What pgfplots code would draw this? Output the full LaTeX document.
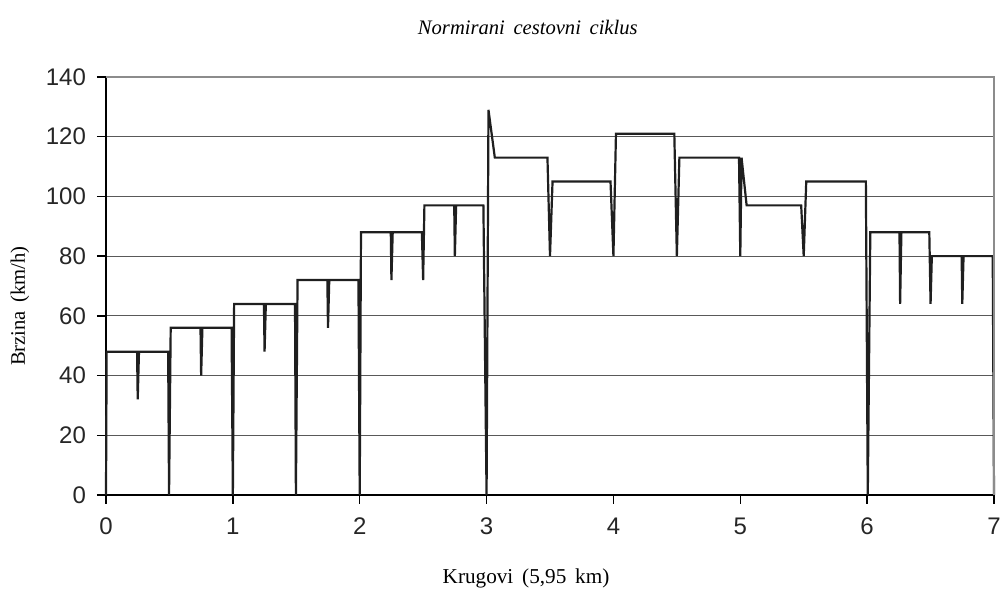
\documentclass[border=0pt]{standalone}
\usepackage{fontspec}
\usepackage{pgfplots}
\pgfplotsset{compat=1.18}
\newfontfamily\arial{Liberation Sans}
\newfontfamily\tms{Liberation Serif}
\begin{document}
\begin{tikzpicture}
\begin{axis}[
  name=ax,
  at={(0,0)}, anchor=origin,
  scale only axis,
  width=444pt, height=209pt,
  xmin=0, xmax=7, ymin=0, ymax=140,
  xtick={0,1,...,7}, ytick={0,20,...,140},
  axis x line*=bottom, axis y line*=left,
  axis line style={black, line width=0.7pt, -},
  tick align=outside, major tick length=4.5pt,
  tick style={black, line width=0.7pt},
  ymajorgrids, grid style={black!65, line width=0.6pt},
  /pgf/number format/assume math mode=true,
  ticklabel style={font=\arial\fontsize{12}{12}\selectfont, text=black!85},
  yticklabel style={xshift=-2pt},
  xticklabel style={yshift=-3.5pt},
  clip=false,
]
\addplot[black!88, line width=1.1pt, line join=miter] coordinates {
(0,0) (0.005,48) (0.245,48) (0.25,32) (0.26,48) (0.49,48) (0.497,0)
(0.51,56) (0.745,56) (0.75,40) (0.76,56) (0.99,56) (1.0,0)
(1.01,64) (1.245,64) (1.25,48) (1.26,64) (1.49,64) (1.497,0)
(1.51,72) (1.745,72) (1.75,56) (1.76,72) (1.99,72) (2.0,0)
(2.01,88) (2.245,88) (2.25,72) (2.26,88) (2.49,88) (2.5,72)
(2.51,97) (2.745,97) (2.75,80) (2.76,97) (2.975,97) (3.0,0)
(3.015,129) (3.065,113) (3.48,113) (3.5,80) (3.52,105) (3.977,105)
(4.0,80) (4.02,121) (4.48,121) (4.5,80) (4.52,113) (4.99,113)
(5.0,80) (5.01,113) (5.05,97) (5.48,97) (5.5,80) (5.52,105) (5.99,105)
(6.005,0) (6.025,88) (6.255,88) (6.26,64) (6.27,88) (6.49,88) (6.5,64)
(6.51,80) (6.745,80) (6.75,64) (6.76,80) (6.99,80) (7.0,0)
};
\draw[black!45, line width=0.7pt] (rel axis cs:0,1) -- (rel axis cs:1,1) -- (rel axis cs:1,0);
\coordinate (bl) at (rel axis cs:0,0);
\coordinate (tr) at (rel axis cs:1,1);
\node[font=\tms\itshape\fontsize{10.3}{11}\selectfont] at ([yshift=25pt]rel axis cs:0.475,1) {Normirani\ \,cestovni\ \,ciklus};
\node[font=\tms\fontsize{10.6}{11}\selectfont] at ([yshift=-41.5pt]rel axis cs:0.473,0) {Krugovi\ \,(5,95\ \,km)};
\node[font=\tms\fontsize{10.3}{11}\selectfont, rotate=90] at ([xshift=-43pt]rel axis cs:0,0.452) {Brzina\ \,(km/h)};
\end{axis}
\pgfresetboundingbox
\path ([shift={(-53pt,-48.5pt)}]bl) rectangle ([shift={(5.5pt,38.5pt)}]tr);
\end{tikzpicture}
\end{document}
